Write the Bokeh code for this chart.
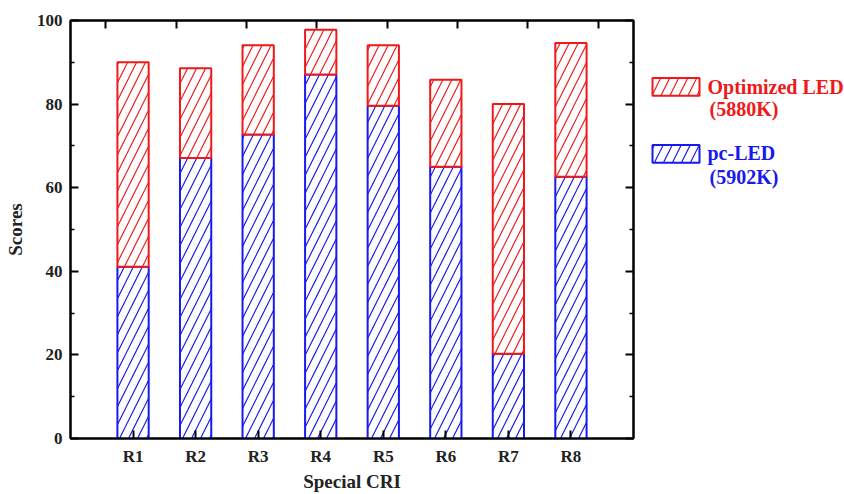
from bokeh.plotting import figure
from bokeh.models import Range1d, LinearAxis, FixedTicker, CustomJSTickFormatter
from bokeh.layouts import row
from bokeh.embed import file_html
from bokeh.resources import INLINE
from bokeh.core.properties import value

# ---- data ----
categories = ["R1", "R2", "R3", "R4", "R5", "R6", "R7", "R8"]
optimized_led = [90.0, 88.6, 94.1, 97.8, 94.1, 85.8, 80.0, 94.6]
pc_led = [41.1, 67.1, 72.7, 87.1, 79.6, 65.0, 20.3, 62.6]
y_major_ticks = [0, 20, 40, 60, 80, 100]
y_minor_ticks = [10, 30, 50, 70, 90]
legend_optimized = ["Optimized LED", "(5880K)"]
legend_pc = ["pc-LED", "(5902K)"]

FONT = "Liberation Serif"
RED = "#f01818"
BLUE = "#1818f0"
HATCH = dict(hatch_pattern="/", hatch_scale=18, hatch_weight=1.2)

xs = list(range(1, len(categories) + 1))

p = figure(width=640, height=494, x_range=Range1d(0, len(categories) + 1),
           y_range=Range1d(0, 100), output_backend="svg", toolbar_location=None,
           min_border_left=70, min_border_right=7, min_border_top=20,
           min_border_bottom=56)
p.extra_x_ranges = {"top": Range1d(0, len(categories))}

p.vbar(x=xs, width=0.5, bottom=0, top=pc_led, fill_color="white",
       line_color=BLUE, line_width=2, hatch_color=BLUE, **HATCH)
p.vbar(x=xs, width=0.5, bottom=pc_led, top=optimized_led, fill_color="white",
       line_color=RED, line_width=2, hatch_color=RED, **HATCH)

p.xgrid.visible = False
p.ygrid.visible = False
p.outline_line_color = "black"
p.outline_line_width = 2

# bottom axis
xa = p.xaxis[0]
xa.ticker = FixedTicker(ticks=xs)
xa.major_label_overrides = {i: c for i, c in zip(xs, categories)}
xa.axis_label = "Special CRI"

# left axis
ya = p.yaxis[0]
ya.ticker = FixedTicker(ticks=y_major_ticks, minor_ticks=y_minor_ticks)
ya.axis_label = "Scores"

blank = CustomJSTickFormatter(code="return '';")

# top axis (ticks only)
top_axis = LinearAxis(x_range_name="top",
                      ticker=FixedTicker(ticks=[i + 0.5 for i in range(len(categories))]),
                      formatter=blank)
top_axis.major_label_standoff = 0
p.add_layout(top_axis, "above")

# right axis (ticks only)
right_axis = LinearAxis(ticker=FixedTicker(ticks=y_major_ticks, minor_ticks=y_minor_ticks),
                        formatter=blank)
right_axis.major_label_standoff = 0
p.add_layout(right_axis, "right")

for ax in [xa, ya, top_axis, right_axis]:
    ax.axis_line_width = 2
    ax.axis_line_color = "black"
    ax.major_tick_in = 8
    ax.major_tick_out = 0
    ax.minor_tick_in = 4
    ax.minor_tick_out = 0
    ax.major_tick_line_width = 2
    ax.minor_tick_line_width = 1.5
    ax.major_label_text_font = FONT
    ax.major_label_text_font_style = "bold"
    ax.axis_label_text_font = FONT
    ax.axis_label_text_font_style = "bold"

for ax in [xa, ya]:
    ax.major_label_text_font_size = "17px"
    ax.major_label_text_color = "#222222"
    ax.axis_label_text_font_size = "19px"
    ax.axis_label_text_color = "#222222"
xa.major_label_standoff = 8
xa.axis_label_standoff = 2
ya.major_label_standoff = 8
ya.axis_label_standoff = 8

# legend panel
lg = figure(width=204, height=494, x_range=Range1d(0, 204), y_range=Range1d(494, 0),
            output_backend="svg", toolbar_location=None, min_border=0)
lg.axis.visible = False
lg.xgrid.visible = False
lg.ygrid.visible = False
lg.outline_line_color = None

lg.quad(left=[12], right=[59], top=[68], bottom=[89], fill_color="white",
        line_color=RED, line_width=2, hatch_color=RED, **HATCH)
lg.quad(left=[12], right=[59], top=[147], bottom=[168], fill_color="white",
        line_color=BLUE, line_width=2, hatch_color=BLUE, **HATCH)
lg.text(x=[67, 69], y=[78, 105], text=legend_optimized, text_font=value(FONT),
        text_font_style="bold", text_font_size="20px", text_color=RED,
        text_baseline="middle")
lg.text(x=[67, 69], y=[157, 185], text=legend_pc, text_font=value(FONT),
        text_font_style="bold", text_font_size="20px", text_color=BLUE,
        text_baseline="middle")

layout = row(p, lg)
open("out.html", "w").write(file_html(layout, INLINE))
